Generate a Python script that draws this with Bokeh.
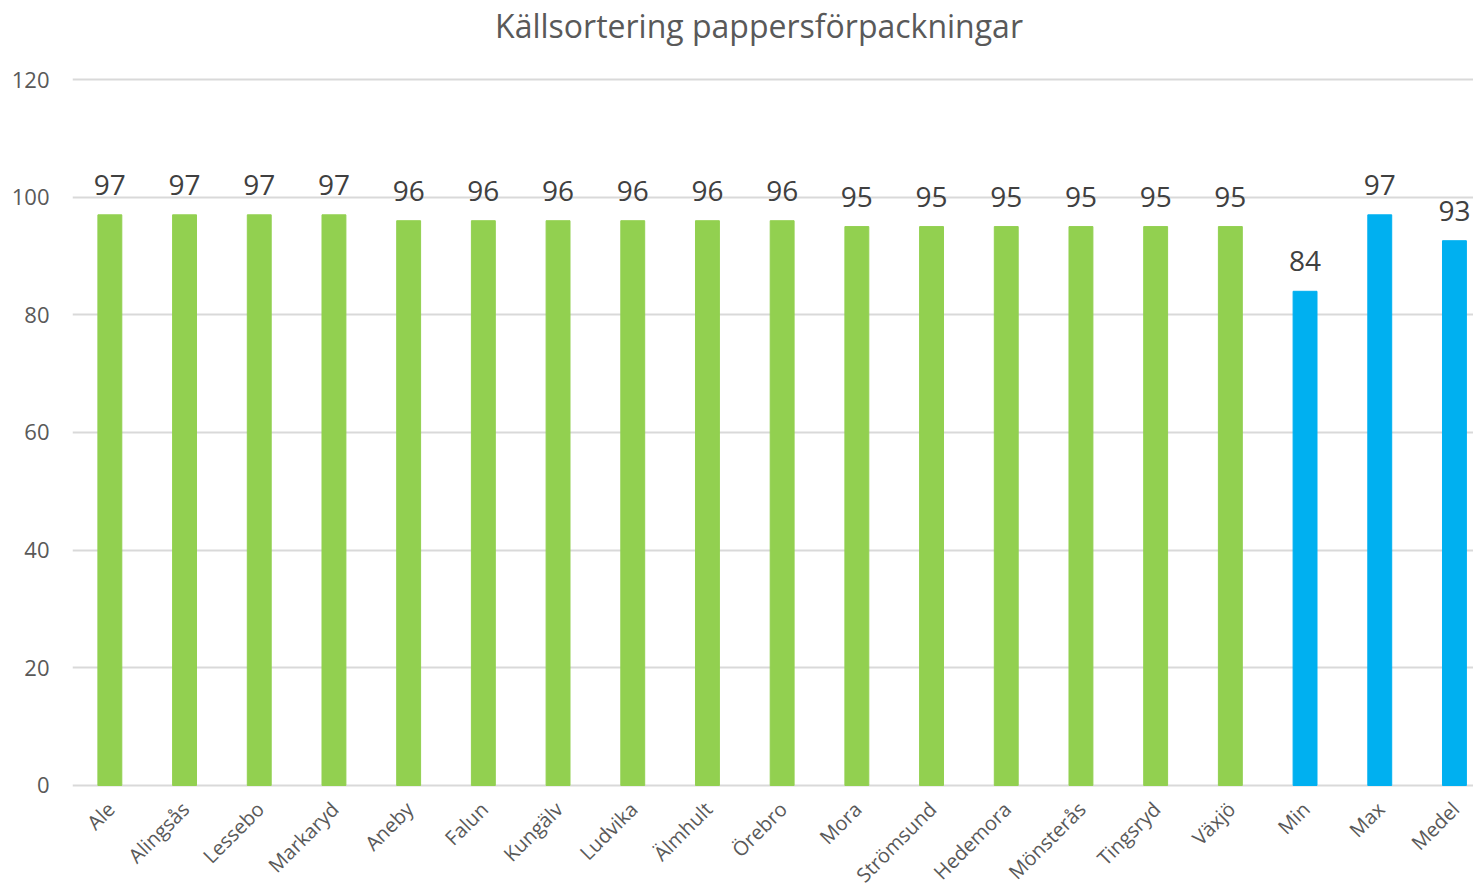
from bokeh.plotting import figure
from bokeh.models import ColumnDataSource, Range1d, FixedTicker
from bokeh.core.properties import value
from bokeh.embed import file_html
from bokeh.resources import INLINE
import math

title_text = "Källsortering pappersförpackningar"
categories = ["Ale", "Alingsås", "Lessebo", "Markaryd", "Aneby", "Falun", "Kungälv",
              "Ludvika", "Älmhult", "Örebro", "Mora", "Strömsund", "Hedemora",
              "Mönsterås", "Tingsryd", "Växjö", "Min", "Max", "Medel"]
values = [97, 97, 97, 97, 96, 96, 96, 96, 96, 96, 95, 95, 95, 95, 95, 95, 84, 97, 92.6]
groups = ["kommun"] * 16 + ["stat"] * 3
y_ticks = [0, 20, 40, 60, 80, 100, 120]

GREEN = "#92D050"
BLUE = "#00B0F0"
FONT = "Open Sans"

xs = list(range(len(categories)))
colors = [GREEN if g == "kommun" else BLUE for g in groups]
src = ColumnDataSource(dict(x=xs, top=values, color=colors, base=[0] * len(xs),
                            name=categories,
                            label=[f"{v:.0f}" for v in values]))

# the frame spans the whole canvas; room for title and rotated labels is kept in the ranges
xr = Range1d(-0.5, 18.255)
yr = Range1d(-17.85, 133.43)

p = figure(width=1473, height=890, output_backend="svg", toolbar_location=None,
           x_range=xr, y_range=yr,
           min_border_left=72, min_border_right=0, min_border_top=0,
           min_border_bottom=0)
p.outline_line_color = None

p.vbar(x="x", top="top", bottom=0, width=0.32, color="color", source=src)
p.text(x="x", y="top", text="label", source=src, text_align="center",
       text_baseline="alphabetic", y_offset=-30, text_font=value(FONT),
       text_font_size="28px", text_color="#404040")

# category labels, rotated 45 degrees below the zero line
p.text(x="x", y="base", text="name", source=src, angle=math.pi / 4,
       text_align="right", text_baseline="middle", x_offset=1, y_offset=20,
       text_font=value(FONT), text_font_size="20px", text_color="#595959")

# chart title, centred near the top of the canvas
p.text(x=[(xr.start + xr.end) / 2], y=[yr.end], text=[title_text],
       text_align="center", text_baseline="middle", x_offset=-14, y_offset=25,
       text_font=value(FONT), text_font_size="32px", text_color="#595959")

p.xaxis.visible = False

p.yaxis.ticker = FixedTicker(ticks=y_ticks)
p.yaxis.axis_line_color = None
p.yaxis.major_tick_line_color = None
p.yaxis.minor_tick_line_color = None
p.yaxis.major_label_text_font = FONT
p.yaxis.major_label_text_font_size = "22px"
p.yaxis.major_label_text_color = "#595959"
p.yaxis.major_label_standoff = 17

p.xgrid.grid_line_color = None
p.ygrid.grid_line_color = "#d9d9d9"
p.ygrid.grid_line_width = 2

open("out.html", "w").write(file_html(p, INLINE))
